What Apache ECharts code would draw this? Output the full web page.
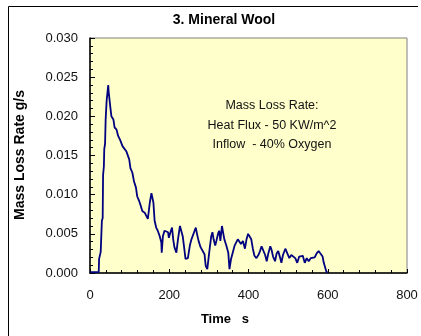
<!DOCTYPE html>
<html>
<head>
<meta charset="utf-8">
<script src="https://cdn.jsdelivr.net/npm/echarts@6/dist/echarts.min.js"></script>
<style>html,body{margin:0;padding:0;background:#fff;}#c{width:421px;height:336px;}</style>
</head>
<body>
<div id="c"></div>
<script>
const titleText = "3. Mineral Wool";
const xAxisName = "Time   s";
const yAxisName = "Mass Loss Rate g/s";
const noteLines = ["Mass Loss Rate:", "Heat Flux - 50 KW/m^2", "Inflow  - 40% Oxygen"];
const xTicks = [0, 200, 400, 600, 800];
const yTicks = [0, 0.005, 0.01, 0.015, 0.02, 0.025, 0.03];
const times = [0, 10, 22, 23, 26, 27, 29, 30, 32, 33, 35, 36, 38, 39.5, 42, 44, 46, 47, 49, 51, 54, 59, 62, 67, 71, 76, 79, 82, 87, 92, 96, 99, 102, 107, 111, 116, 119, 124, 128, 132, 138, 143, 146, 150, 151, 155, 157, 160, 163, 167, 171, 176, 180, 181, 184, 188, 192, 197, 199, 203, 207, 210, 213, 218, 222, 227, 230, 234, 237, 241, 247, 252, 256, 260, 264, 267, 270, 274, 279, 284, 289, 292, 296, 299, 302, 306, 309, 312, 316, 319, 323, 326, 329, 333, 336, 339, 344, 349, 352, 356, 361, 365, 369, 373, 377, 381, 386, 391, 395, 399, 403, 407, 411, 415, 420, 426, 429, 433, 437, 442, 446, 450, 455, 458, 462, 467, 471, 475, 480, 483, 487, 493, 498, 503, 508, 513, 518, 523, 528, 533, 537, 542, 547, 552, 557, 562, 567, 572, 577, 582, 587, 590, 595, 597, 600];
const rates = [0.0001, 0.0001, 0.0001, 0.0018, 0.0019, 0.0027, 0.0028, 0.0067, 0.0070, 0.0125, 0.0136, 0.0158, 0.0165, 0.0196, 0.0220, 0.0230, 0.0240, 0.0232, 0.0230, 0.0213, 0.0200, 0.0196, 0.0186, 0.0183, 0.0175, 0.0170, 0.0172, 0.0162, 0.0160, 0.0155, 0.0153, 0.0145, 0.0134, 0.0128, 0.0117, 0.0109, 0.0098, 0.0092, 0.0086, 0.0079, 0.0077, 0.0075, 0.0069, 0.0069, 0.0090, 0.0102, 0.0100, 0.0090, 0.0067, 0.0058, 0.0054, 0.0047, 0.0039, 0.0026, 0.0047, 0.0054, 0.0055, 0.0052, 0.0045, 0.0052, 0.0058, 0.0043, 0.0033, 0.0026, 0.0043, 0.0060, 0.0062, 0.0047, 0.0035, 0.0018, 0.0019, 0.0035, 0.0043, 0.0045, 0.0054, 0.0058, 0.0050, 0.0041, 0.0033, 0.0031, 0.0024, 0.0009, 0.0005, 0.0018, 0.0031, 0.0047, 0.0052, 0.0043, 0.0035, 0.0041, 0.0050, 0.0054, 0.0041, 0.0060, 0.0062, 0.0043, 0.0035, 0.0026, 0.0005, 0.0018, 0.0020, 0.0035, 0.0039, 0.0043, 0.0041, 0.0037, 0.0041, 0.0031, 0.0043, 0.0050, 0.0050, 0.0043, 0.0031, 0.0022, 0.0019, 0.0024, 0.0028, 0.0034, 0.0032, 0.0023, 0.0015, 0.0025, 0.0034, 0.0030, 0.0021, 0.0015, 0.0025, 0.0028, 0.0019, 0.0013, 0.0023, 0.0031, 0.0025, 0.0019, 0.0023, 0.0021, 0.0019, 0.0013, 0.0021, 0.0019, 0.0022, 0.0013, 0.0019, 0.0015, 0.0019, 0.0021, 0.0020, 0.0025, 0.0028, 0.0027, 0.0021, 0.0013, 0.0012, 0.0001, 0.0001];

const FONT = "'Liberation Sans', Arial, sans-serif";
const chart = echarts.init(document.getElementById('c'), null, {renderer: 'canvas'});
const seriesData = times.map((t, i) => [t, rates[i]]);
chart.setOption({
  animation: false,
  backgroundColor: '#ffffff',
  grid: {left: 90, right: 14, top: 38, bottom: 63, show: true, backgroundColor: '#FFFFCC', borderColor: '#808080', borderWidth: 1},
  xAxis: {
    type: 'value', min: xTicks[0], max: xTicks[xTicks.length - 1], interval: xTicks[1] - xTicks[0],
    axisLine: {show: true, onZero: false, lineStyle: {color: '#000', width: 1.5}},
    axisTick: {show: true, inside: true, length: 4, lineStyle: {color: '#000'}},
    minorTick: {show: true, splitNumber: 5, length: 3, lineStyle: {color: '#000'}},
    splitLine: {show: false},
    axisLabel: {margin: 16, color: '#111', fontFamily: FONT, fontSize: 13}
  },
  yAxis: {
    type: 'value', min: yTicks[0], max: yTicks[yTicks.length - 1], interval: yTicks[1] - yTicks[0],
    axisLine: {show: true, onZero: false, lineStyle: {color: '#000', width: 1.5}},
    axisTick: {show: true, inside: true, length: 5, lineStyle: {color: '#000'}},
    minorTick: {show: true, splitNumber: 5, length: 3, lineStyle: {color: '#000'}},
    splitLine: {show: false},
    axisLabel: {margin: 12, color: '#111', fontFamily: FONT, fontSize: 13, formatter: v => v.toFixed(3)}
  },
  series: [{
    type: 'line', data: seriesData, showSymbol: false, clip: true,
    lineStyle: {color: '#000080', width: 1.8}
  }],
  graphic: [
    {type: 'polyline', shape: {points: [[8.5, 340], [8.5, 6.5], [418, 6.5]]}, style: {stroke: '#000', lineWidth: 1, fill: null}, silent: true},
    {type: 'text', x: 224, y: 20, style: {text: titleText, textAlign: 'center', textVerticalAlign: 'middle', font: "bold 14px " + FONT, fill: '#000'}},
    {type: 'text', x: 225, y: 319, style: {text: xAxisName, textAlign: 'center', textVerticalAlign: 'middle', font: "bold 13px " + FONT, fill: '#000'}},
    {type: 'text', x: 20, y: 155, rotation: Math.PI / 2, style: {text: yAxisName, textAlign: 'center', textVerticalAlign: 'middle', font: "bold 14px " + FONT, fill: '#000'}},
    {type: 'text', x: 272, y: 106, style: {text: noteLines[0], textAlign: 'center', textVerticalAlign: 'middle', font: "12.5px " + FONT, fill: '#111'}},
    {type: 'text', x: 272, y: 126, style: {text: noteLines[1], textAlign: 'center', textVerticalAlign: 'middle', font: "12.5px " + FONT, fill: '#111'}},
    {type: 'text', x: 272, y: 145, style: {text: noteLines[2], textAlign: 'center', textVerticalAlign: 'middle', font: "12.5px " + FONT, fill: '#111'}}
  ]
});
</script>
</body>
</html>
